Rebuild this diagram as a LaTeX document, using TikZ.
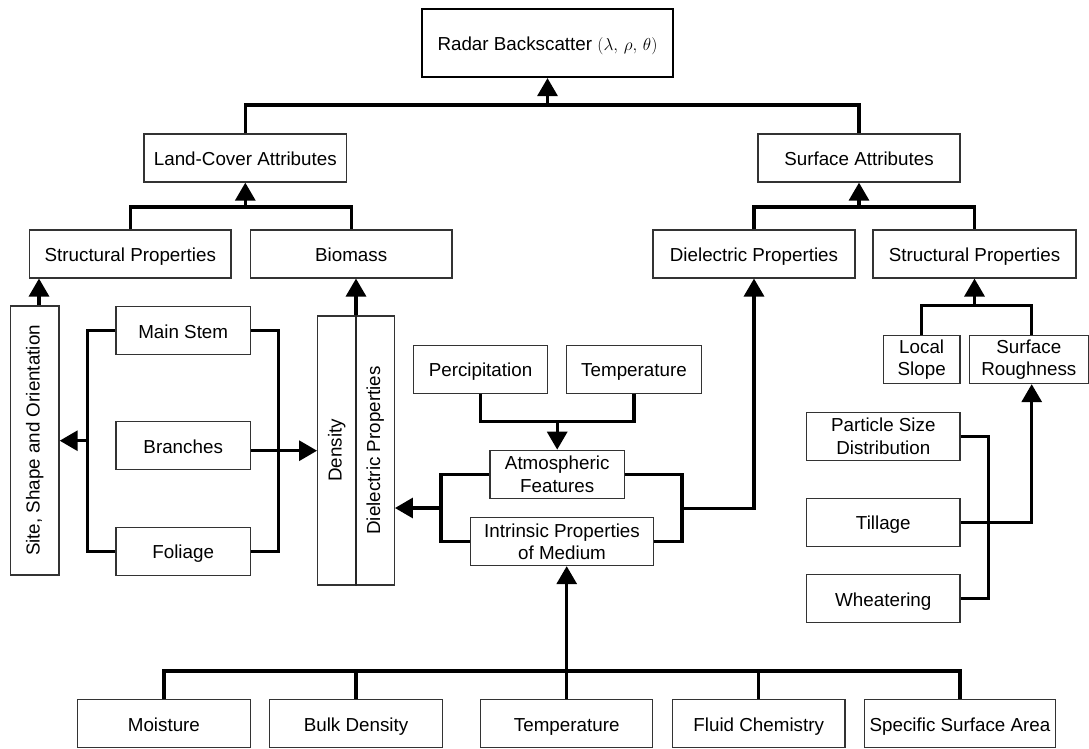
\documentclass[tikz,border=0pt]{standalone}
\usepackage{fontspec}
\setmainfont{Liberation Sans}
\usepackage{graphicx}
\usetikzlibrary{arrows.meta}

\begin{document}
\begin{tikzpicture}[x=1pt,y=-1pt,
  every node/.style={font=\fontsize{18.8}{22.3}\selectfont},
  boxbase/.style={draw=black!80, line width=1.3pt, rectangle, inner sep=0pt,
    minimum height=48pt, align=center, fill=white},
  box/.style={boxbase, text height=15.2pt, text depth=0pt},
  twoline/.style={boxbase},
  conn/.style={line width=3.2pt, line join=miter},
  arr/.style={conn, -{Triangle[width=20pt,length=18pt]}},
  divider/.style={line width=1.3pt, draw=black!85},
  vlabel/.style={rotate=90, inner sep=0pt, text height=13.6pt, text depth=4pt}]

\useasboundingbox (0,0) rectangle (1089,749);

% top level
\node[box, minimum width=250.4pt, minimum height=68pt, draw=black, line width=2.2pt]
  (radar) at (547.5,43) {Radar Backscatter $(\lambda,\,\rho,\,\theta)$};

% attribute groups
\node[box, minimum width=202.5pt] (land) at (245.3,158) {Land-Cover Attributes};
\node[box, minimum width=202pt] (surf) at (859,158) {Surface Attributes};

\node[box, minimum width=201.5pt] (stl) at (130.3,253.9) {Structural Properties};
\node[box, minimum width=201.7pt] (bio) at (351.2,253.9) {Biomass};
\node[box, minimum width=202pt] (diel) at (754,253.9) {Dielectric Properties};
\node[box, minimum width=203pt] (str) at (974.5,253.9) {Structural Properties};

% vegetation components
\node[boxbase, minimum width=48.3pt, minimum height=269pt] (site) at (34.9,440.5) {};
\node[vlabel] (sitelbl) at (site.center) {Site, Shape and Orientation};
\node[box, minimum width=134.3pt] (stem) at (183.2,330.5) {Main Stem};
\node[box, minimum width=134.3pt] (branch) at (183.2,445.5) {Branches};
\node[box, minimum width=134.3pt] (foliage) at (183.2,551.3) {Foliage};

\node[boxbase, minimum width=76.6pt, minimum height=269pt] (dens) at (356,450.5) {};
\draw[divider] (dens.north) -- (dens.south);
\node[vlabel] (denslbl) at (336.9,450.5) {Density};
\node[vlabel] (diellbl) at (375.2,450.5) {Dielectric Properties};

% medium and atmosphere
\node[box, minimum width=134.4pt] (perc) at (480.5,369.2) {Percipitation};
\node[box, minimum width=134.6pt] (ttop) at (634,369.2) {Temperature};
\node[twoline, minimum width=134.3pt] (atm) at (557.2,474.3) {Atmospheric\\Features};
\node[twoline, minimum width=182.6pt] (intr) at (562,541.5) {Intrinsic Properties\\of Medium};

% soil parameters
\node[box, minimum width=172.8pt] (moist) at (163.9,723.5) {Moisture};
\node[box, minimum width=173pt] (bulk) at (356,723.5) {Bulk Density};
\node[box, minimum width=172pt] (tbot) at (566.7,723.5) {Temperature};
\node[box, minimum width=172.8pt] (fluid) at (758.7,723.5) {Fluid Chemistry};
\node[box, minimum width=191.6pt] (ssa) at (960,723.5) {Specific Surface Area};

% surface structure
\node[twoline, minimum width=76.7pt] (slope) at (921.7,359.5) {Local\\Slope};
\node[twoline, minimum width=119pt] (rough) at (1028.8,359.5) {Surface\\Roughness};
\node[twoline, minimum width=153.3pt] (part) at (883.3,436.2) {Particle Size\\Distribution};
\node[box, minimum width=153.3pt] (till) at (883.3,522.3) {Tillage};
\node[box, minimum width=153.3pt] (wheat) at (883.3,598.8) {Wheatering};

% junction points
\coordinate (j1) at (547.5,105);
\coordinate (j2) at (245.3,207);
\coordinate (j3) at (859,207);
\coordinate (jL) at (87.7,440.7);
\coordinate (jR) at (278.7,440.7);
\coordinate (jP) at (557.2,421.7);
\coordinate (jA) at (441,508);
\coordinate (jB) at (682,508.3);
\coordinate (jC) at (566.7,671);
\coordinate (jS) at (974.5,305.7);
\coordinate (jW) at (988.3,518);

% connectors
\draw[conn] (land.north) |- (j1) -| (surf.north);
\draw[arr] (j1) -- (radar.south);

\draw[conn] (stl.north) |- (j2) -| (bio.north);
\draw[arr] (j2) -- (land.south);
\draw[conn] (diel.north) |- (j3) -| (str.north);
\draw[arr] (j3) -- (surf.south);

\draw[arr] ([xshift=4.1pt]site.north) -- ([xshift=4.1pt]site.north |- stl.south);
\draw[conn] (stem.west) -| (jL) |- (foliage.west);
\draw[arr] (jL) -- (jL -| site.east);
\draw[conn] (stem.east) -| (jR) |- (foliage.east);
\draw[arr] ([yshift=-5.2pt]branch.east) -- ([yshift=-5.2pt]branch.east -| dens.west);
\draw[arr] (dens.north) -- (dens.north |- bio.south);

\draw[conn] (perc.south) |- (jP) -| (ttop.south);
\draw[arr] (jP) -- (atm.north);
\draw[conn] (atm.west) -| (jA) |- (intr.west);
\draw[arr] (jA) -- (jA -| dens.east);
\draw[conn] (atm.east) -| (jB) |- (intr.east);
\draw[arr] (jB) -| (diel.south);

\draw[conn] (moist.north) |- (jC) -| (ssa.north);
\draw[conn] (bulk.north) -- (bulk.north |- jC);
\draw[conn] (fluid.north) -- (fluid.north |- jC);
\draw[arr] (tbot.north) -- (tbot.north |- intr.south);

\draw[conn] (slope.north) |- (jS) -| ([xshift=2.9pt]rough.north);
\draw[arr] (jS) -- (str.south);
\draw[conn] (part.east) -| (jW) |- (wheat.east);
\draw[arr] (till.east) -| ([xshift=2.9pt]rough.south);

\end{tikzpicture}
\end{document}
